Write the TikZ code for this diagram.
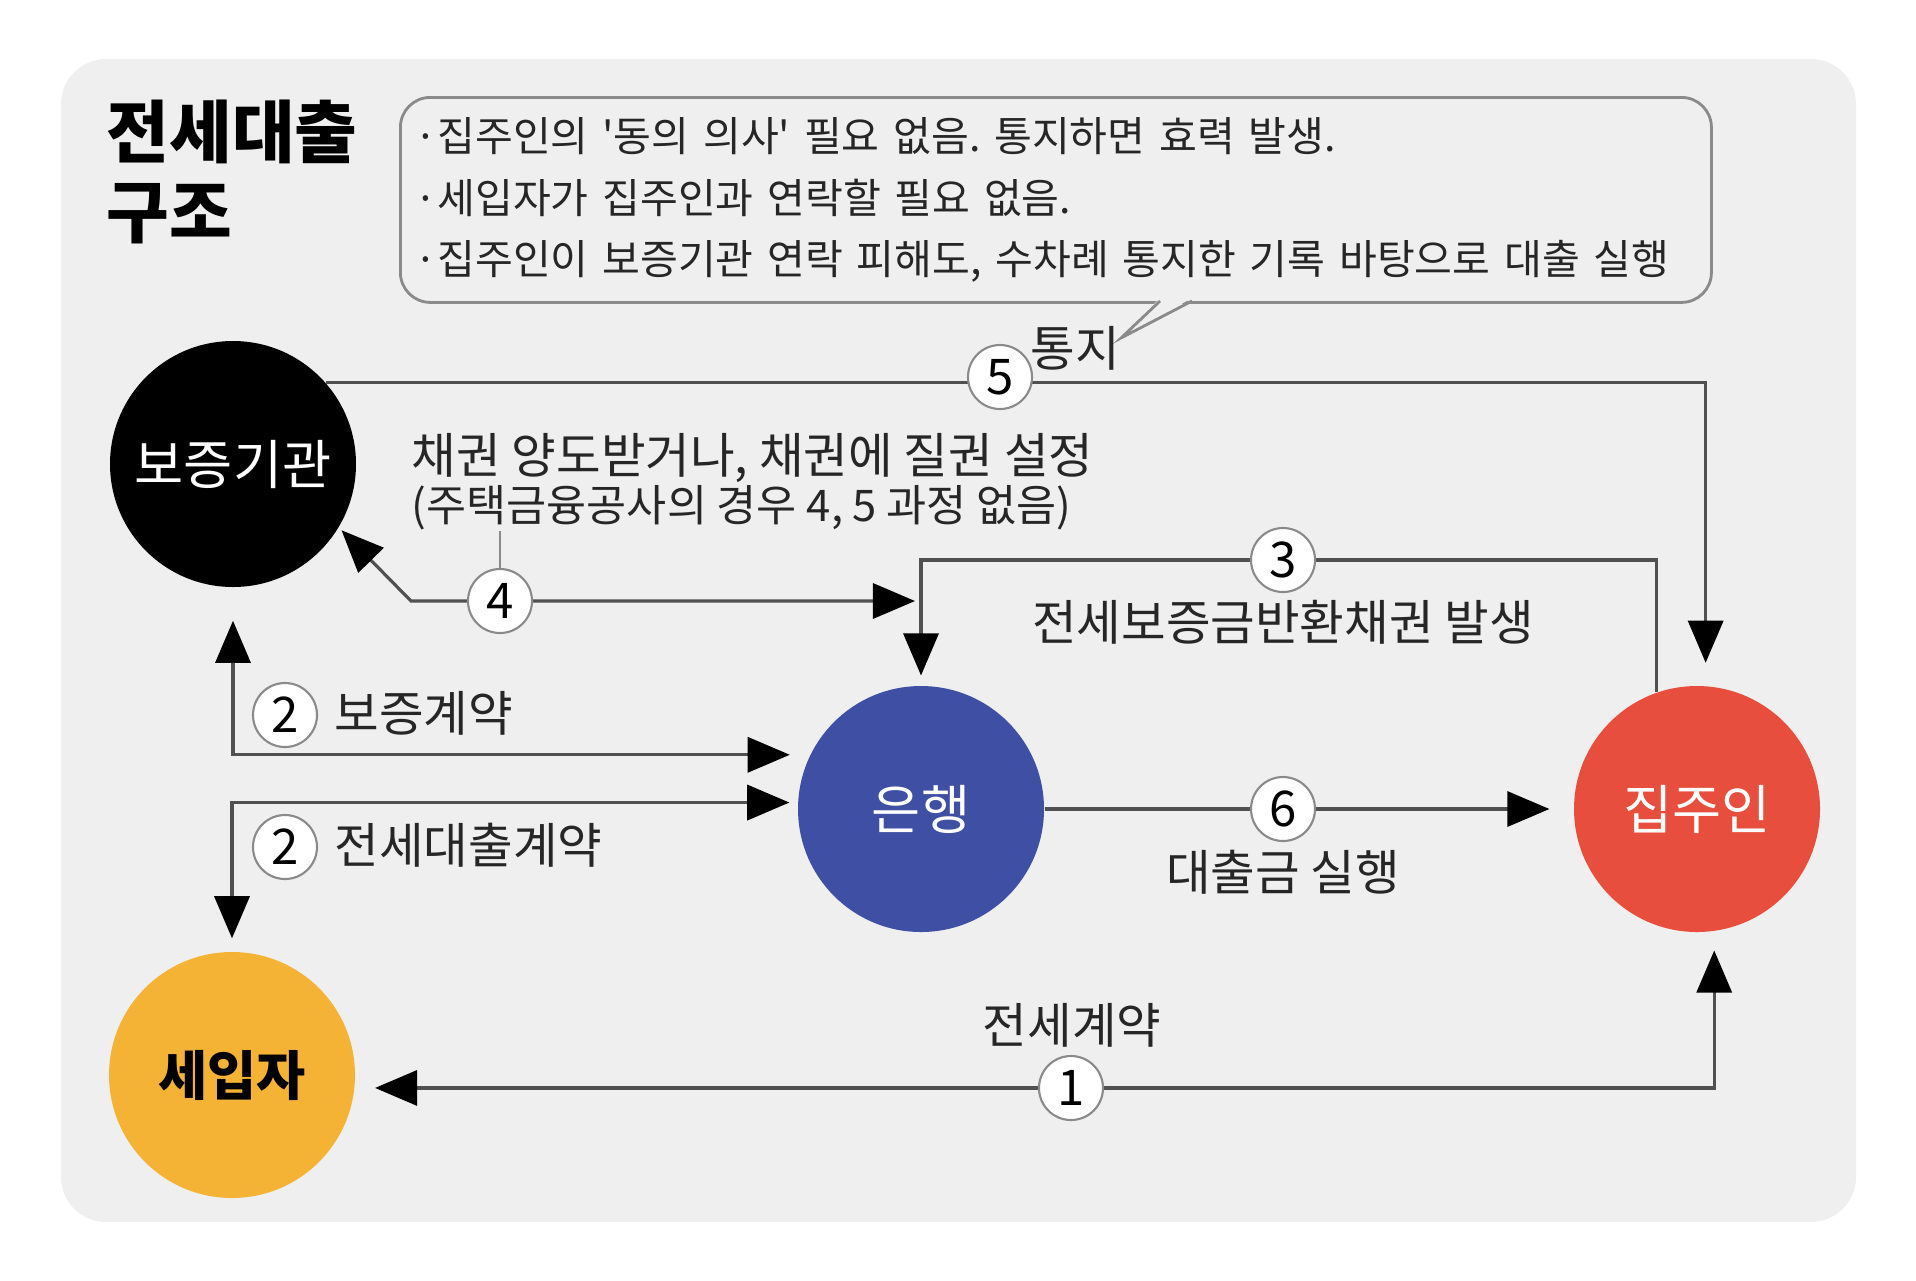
\documentclass[tikz,border=0pt]{standalone}
\usepackage{fontspec}
\setmainfont{Noto Sans CJK KR}
\usetikzlibrary{arrows.meta}
\frenchspacing
\definecolor{bggray}{HTML}{EFEFEF}
\definecolor{boxgray}{HTML}{8A8A8A}
\definecolor{linegray}{HTML}{505050}
\definecolor{bankblue}{HTML}{3F4FA3}
\definecolor{ownerred}{HTML}{E84E3D}
\definecolor{tenantyellow}{HTML}{F4B335}
\tikzset{
  party/.style={circle,minimum size=24.6mm,inner sep=0pt,font=\fontsize{15.2}{18}\selectfont},
  num/.style={circle,draw=boxgray,line width=0.6pt,fill=white,minimum size=6.4mm,inner sep=0pt,font=\fontsize{14}{16}\selectfont},
  link/.style={draw=linegray,line width=0.9pt},
  arr/.style={-{Triangle[length=12pt,width=10pt,color=black]}},
  biarr/.style={{Triangle[length=12pt,width=10pt,color=black]}-{Triangle[length=12pt,width=10pt,color=black]}},
  lbl/.style={inner sep=0pt,text=black!85,font=\fontsize{13.8}{16}\selectfont},
  notebox/.style={draw=boxgray,line width=0.8pt,rounded corners=8.5pt,minimum width=131.1mm,minimum height=20.5mm,
    text width=128.3mm,inner xsep=1.4mm,align=left,text=black!85,font=\fontsize{11.7}{17.4}\selectfont}
}
\begin{document}
\begin{tikzpicture}[x=0.1mm,y=-0.1mm]
  \useasboundingbox (0,0) rectangle (1916,1280);
  \fill[bggray,rounded corners=12.8pt] (61,59) rectangle (1856,1222);
  % title and notes
  \node[anchor=west,align=left,inner sep=0pt,font=\fontsize{19.4}{22.8}\selectfont\bfseries] (title) at (106,172) {전세대출\\구조};
  \node[notebox,anchor=north west] (note) at (399,96) {·집주인의 \textquotesingle 동의 의사\textquotesingle{} 필요 없음. 통지하면 효력 발생.\\·세입자가 집주인과 연락할 필요 없음.\\·집주인이 보증기관 연락 피해도, 수차례 통지한 기록 바탕으로 대출 실행};
  \coordinate (p5) at (1121,338);
  \fill[bggray] (1160,298) -- (p5) -- (1192,298) -- cycle;
  \draw[boxgray,line width=0.8pt] (1160,301) -- (p5) -- (1192,301);
  % parties
  \node[party,fill=black,text=white] (guar) at (233,464) {보증기관};
  \node[party,fill=bankblue,text=white] (bank) at (921,809) {은행};
  \node[party,fill=ownerred,text=white] (owner) at (1697,809) {집주인};
  \node[party,fill=tenantyellow,font=\fontsize{15.2}{18}\selectfont\bfseries] (tenant) at (232,1075) {세입자};
  % connectors
  \draw[link,arr,shorten >=6.5pt] (guar.41) -| (owner.86);
  \coordinate (top3) at (1283,560);
  \draw[link,arr,shorten >=2.8pt] (owner.109) |- (top3) -| (bank.north);
  \coordinate (e4) at (411,601);
  \draw[link,biarr,shorten <=1pt,shorten >=1.7pt] (guar.-31) -- (e4) -- (e4 -| bank.north);
  \draw[link,biarr,shorten <=9.4pt,shorten >=5.7pt] (guar.south) |- (bank.154);
  \draw[link,biarr,shorten <=3.7pt,shorten >=2.3pt] (tenant.north) |- (bank.177);
  \draw[link,arr,shorten >=6.8pt] (bank) -- (owner);
  \draw[link,biarr,shorten <=5.4pt,shorten >=5.7pt] (owner.-82.5) |- (tenant.-6.5);
  % step numbers
  \node[num] (k5) at (1000,377) {5};
  \node[num] (k4) at (e4 -| 500,0) {4};
  \node[num] (k3) at (top3) {3};
  \node[num] (k2a) at (285,715) {2};
  \node[num] (k2b) at (285,847) {2};
  \node[num] (k6) at (1283,809) {6};
  \node[num] (k1) at (1071,1088) {1};
  % labels
  \node[lbl] (t5) at (1075,348) {통지};
  \node[lbl,anchor=west] (t4a) at (411,458) {채권 양도받거나, 채권에 질권 설정};
  \node[lbl,anchor=west,font=\fontsize{12.4}{14}\selectfont] (t4b) at (411,508) {(주택금융공사의 경우 4, 5 과정 없음)};
  \draw[boxgray,line width=0.6pt] (k4.north) -- (k4.north |- t4b.south);
  \node[lbl] (t3) at (1283,622) {전세보증금반환채권 발생};
  \node[lbl,anchor=west] (t2a) at (334,713) {보증계약};
  \node[lbl,anchor=west] (t2b) at (334,845) {전세대출계약};
  \node[lbl] (t6) at (1283,872) {대출금 실행};
  \node[lbl] (t1) at (1072,1025) {전세계약};
\end{tikzpicture}
\end{document}
